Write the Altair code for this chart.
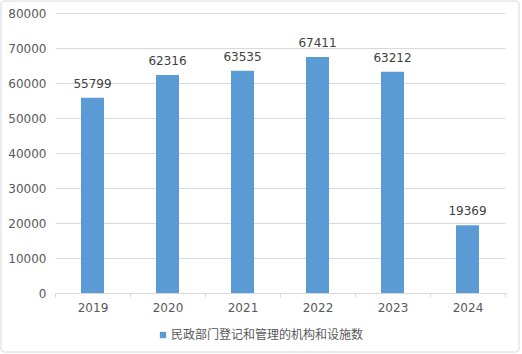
import altair as alt
import pandas as pd

years = ["2019", "2020", "2021", "2022", "2023", "2024"]
values = [55799, 62316, 63535, 67411, 63212, 19369]
series_name = "民政部门登记和管理的机构和设施数"
y_ticks = [0, 10000, 20000, 30000, 40000, 50000, 60000, 70000, 80000]

df = pd.DataFrame({"year": years, "value": values, "series": [series_name] * len(years)})

FONT = "DejaVu Sans"
CJK = "Noto Sans CJK SC"
GRID = "#d9d9d9"
BLUE = "#5b9bd5"

x_enc = alt.X("year:N", sort=years, title=None,
              scale=alt.Scale(paddingInner=0, paddingOuter=0),
              axis=alt.Axis(labelAngle=0, tickBand="extent", domainColor=GRID,
                            tickColor=GRID, tickSize=4, labelPadding=5,
                            labelColor="#595959", labelFont=FONT, labelFontSize=12,
                            grid=False))
y_enc = alt.Y("value:Q", title=None,
              scale=alt.Scale(domain=[0, 80000], nice=False),
              axis=alt.Axis(values=y_ticks, tickCount=len(y_ticks) + 1, format="d",
                            labelOverlap=False,
                            domain=False, ticks=False, labelPadding=9,
                            labelColor="#595959", labelFont=FONT, labelFontSize=12,
                            gridColor=GRID, gridWidth=1))

bars = alt.Chart(df).mark_bar(size=23).encode(
    x=x_enc,
    y=y_enc,
    color=alt.Color("series:N", scale=alt.Scale(range=[BLUE]),
                    legend=alt.Legend(title=None, orient="none", legendX=102, legendY=316,
                                      symbolType="square", symbolSize=40, labelLimit=0,
                                      labelFont=CJK, labelFontSize=12, labelColor="#595959",
                                      labelOffset=2)),
)

labels = alt.Chart(df).mark_text(dy=-10, baseline="alphabetic", font=FONT, fontSize=12,
                                 color="#404040").encode(
    x=x_enc,
    y=y_enc,
    text="value:Q",
)

border = alt.Chart(alt.Data(values=[{}])).mark_rect(
    fill=None, stroke=GRID, strokeWidth=1, cornerRadius=3
).encode(
    x=alt.value(-54), x2=alt.value(464), y=alt.value(-12), y2=alt.value(339)
)

chart = alt.layer(bars, labels, border).properties(
    width=450, height=280,
    padding={"left": 55, "top": 13, "right": 17, "bottom": 61},
    autosize=alt.AutoSizeParams(type="none"),
    background="white",
).configure_view(stroke=None)

chart.save("out.html", embed_options={"renderer": "svg", "actions": False})
